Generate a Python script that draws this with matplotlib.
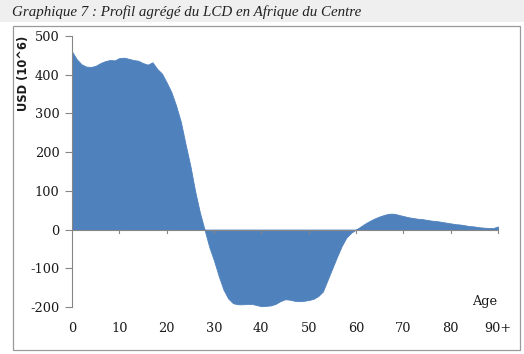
import matplotlib
matplotlib.use("Agg")
import matplotlib.pyplot as plt
from matplotlib.patches import Rectangle
import matplotlib.transforms as mtransforms

ages = list(range(0, 91))
values = [460, 440, 427, 421, 420, 423, 430, 435, 438, 437,
          443, 444, 441, 438, 436, 430, 426, 432, 415, 403,
          380, 355, 320, 278, 220, 165, 100, 45, 0, -45,
          -80, -120, -155, -178, -190, -193, -193, -192, -192, -195,
          -198, -197, -196, -192, -185, -180, -181, -184, -185, -184,
          -182, -179, -172, -160, -130, -100, -70, -42, -20, -8,
          0, 8, 16, 23, 29, 34, 38, 41, 41, 38,
          35, 32, 30, 28, 27, 25, 23, 22, 20, 18,
          16, 14, 13, 11, 9, 8, 6, 5, 4, 4, 8]
xticks = [0, 10, 20, 30, 40, 50, 60, 70, 80, 90]
xticklabels = ["0", "10", "20", "30", "40", "50", "60", "70", "80", "90+"]
yticks = [-200, -100, 0, 100, 200, 300, 400, 500]

title = "Graphique 7 : Profil agrégé du LCD en Afrique du Centre"

fig = plt.figure(figsize=(5.24, 3.54), dpi=100)
fig.patch.set_facecolor("white")

# title band
fig.patches.append(Rectangle((0, 1 - 22/354), 1, 22/354, transform=fig.transFigure,
                             facecolor="#efefef", edgecolor="none", zorder=-2))
fig.text(12/524, 1 - 16/354, title, fontsize=10.8, style="italic",
         family="Liberation Serif", color="#222222", va="baseline", ha="left")
# chart box
fig.patches.append(Rectangle((13/524, 1 - 350/354), (520-13)/524, (350-26)/354,
                             transform=fig.transFigure, facecolor="white",
                             edgecolor="#9a9a9a", linewidth=0.9, zorder=-1))

ax = fig.add_axes([72/524, 1 - 307/354, (498-72)/524, (307-36)/354])
ax.set_facecolor("none")
ax.fill_between(ages, values, 0, color="#4f81bd", linewidth=0.6, edgecolor="#4f81bd")
ax.set_xlim(0, 90)
ax.set_ylim(-200, 500)

for s in ["top", "right", "bottom"]:
    ax.spines[s].set_visible(False)
ax.spines["left"].set_color("#868686")
ax.spines["left"].set_linewidth(0.8)
ax.axhline(0, color="#868686", linewidth=0.8, zorder=3)

ax.set_yticks(yticks)
ax.set_yticklabels([str(v) for v in yticks], family="DejaVu Serif", fontsize=9.3,
                   color="#1a1a1a")
ax.tick_params(axis="y", direction="out", length=5, width=0.8, color="#868686", pad=4)

ax.set_xticks(xticks)
ax.tick_params(axis="x", length=0, labelbottom=False)
# tick marks at zero line
for xt in xticks[1:]:
    ax.plot([xt, xt], [0, -9], color="#868686", linewidth=0.8, zorder=3, clip_on=False)

trans = mtransforms.blended_transform_factory(ax.transData, ax.transAxes)
for xt, lab in zip(xticks, xticklabels):
    ax.text(xt, -21/271, lab, transform=trans, ha="center", va="center",
            family="DejaVu Serif", fontsize=9.3, color="#1a1a1a")

fig.text(485/524, 1 - 302/354, "Age", ha="center", va="center",
         family="DejaVu Serif", fontsize=9.3, color="#1a1a1a")
fig.text(24/524, 1 - 73/354, "USD (10^6)", rotation=90, ha="center", va="center",
         fontsize=8.3, fontweight="bold", family="DejaVu Sans", color="#1a1a1a")

fig.savefig("out.png", dpi=100)
